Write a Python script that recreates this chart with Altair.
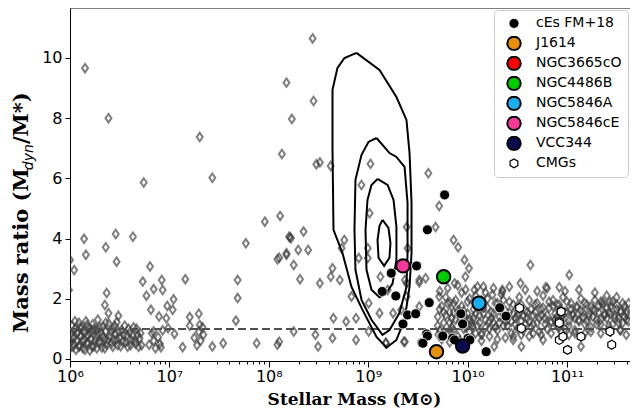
import altair as alt
import pandas as pd

# ---------------- data (log10 stellar mass, mass ratio) ----------------
dia_low = [
    [6.00, 0.55], [6.01, 0.85], [6.02, 1.10], [6.03, 0.40], [6.04, 0.70], [6.05, 1.00], [6.06, 0.30],
    [6.07, 0.60], [6.08, 0.90], [6.09, 1.20], [6.10, 0.45], [6.11, 0.75], [6.12, 1.05], [6.13, 0.35],
    [6.14, 0.62], [6.15, 0.88], [6.16, 1.25], [6.17, 0.50], [6.18, 0.78], [6.19, 1.02], [6.20, 0.28],
    [6.21, 0.66], [6.22, 0.95], [6.23, 1.15], [6.24, 0.42], [6.26, 0.72], [6.27, 0.98], [6.28, 1.30],
    [6.29, 0.55], [6.31, 0.85], [6.32, 0.38], [6.33, 1.08], [6.35, 0.65], [6.36, 0.92], [6.37, 0.48],
    [6.39, 1.18], [6.40, 0.75], [6.42, 0.52], [6.43, 1.00], [6.44, 0.62], [6.46, 0.82], [6.47, 1.22],
    [6.48, 0.45], [6.50, 0.70], [6.52, 0.95], [6.53, 0.58], [6.55, 1.10], [6.57, 0.78], [6.58, 0.40],
    [6.60, 0.88], [6.62, 0.62], [6.64, 1.05], [6.66, 0.50], [6.68, 0.80], [6.70, 0.68], [6.72, 0.45],
    [6.00, 0.35], [6.02, 0.75], [6.04, 0.50], [6.05, 1.25], [6.07, 0.85], [6.09, 0.40], [6.10, 1.05],
    [6.12, 0.60], [6.13, 0.92], [6.15, 0.30], [6.17, 1.12], [6.18, 0.55], [6.20, 0.85], [6.22, 0.40],
    [6.24, 1.00], [6.25, 0.60], [6.27, 0.35], [6.28, 0.82], [6.30, 1.05], [6.31, 0.55], [6.33, 0.75],
    [6.35, 0.35], [6.36, 1.20], [6.38, 0.62], [6.41, 0.90], [6.43, 0.40], [6.45, 1.10], [6.47, 0.65],
    [6.49, 0.90], [6.51, 0.42], [6.54, 0.80], [6.56, 0.55], [6.59, 1.00], [6.61, 0.45], [6.63, 0.78],
    [6.65, 0.60], [6.67, 1.00], [6.69, 0.40], [6.71, 0.85],
    [6.796, 0.47], [6.823, 0.85], [6.842, 0.60], [6.860, 0.35], [6.887, 0.72], [6.905, 0.50],
    [6.932, 0.95], [6.914, 0.39], [7.051, 0.83], [7.133, 0.39], [7.251, 0.70], [7.278, 0.45],
    [7.296, 0.90], [7.314, 0.60], [7.342, 0.80], [7.432, 0.41], [7.541, 0.52], [7.878, 0.52],
    [8.087, 0.47], [7.333, 1.05], [7.205, 1.10], [7.305, 1.13], [6.987, 1.02], [6.842, 0.91],
]
dia_scatter = [
    [6.151, 9.66], [6.387, 8.00], [6.142, 3.99], [6.160, 3.46], [6.042, 2.95], [6.00, 3.29], [5.99, 2.29],
    [6.360, 3.71], [6.460, 4.15], [6.469, 3.23], [6.369, 2.19], [6.351, 1.79], [6.387, 1.52], [6.487, 1.43],
    [6.633, 4.06], [6.805, 3.07], [6.732, 2.57], [6.769, 2.10], [6.842, 2.32], [6.923, 2.62], [6.932, 2.29],
    [6.814, 1.63], [6.896, 1.41], [6.978, 1.76], [7.042, 1.98], [7.033, 1.63], [6.969, 1.35], [7.160, 2.65],
    [7.205, 1.39], [7.296, 1.50], [7.669, 1.27], [7.687, 2.02], [7.687, 2.62], [7.769, 3.84], [8.087, 3.31],
    [8.178, 3.46], [8.205, 4.06], [8.441, 10.65], [8.178, 9.18], [8.450, 8.57], [8.232, 7.97], [7.305, 7.37],
    [8.132, 6.81], [8.478, 6.47], [8.514, 6.53], [8.623, 6.41], [6.742, 5.86], [7.432, 6.02], [7.960, 4.56],
    [8.114, 4.75], [8.214, 4.04], [8.350, 4.23], [9.023, 6.48], [9.605, 6.17], [8.932, 5.78], [9.014, 4.84],
    [9.387, 4.38], [8.223, 4.01], [8.760, 3.95], [8.396, 3.62], [8.296, 3.62], [8.178, 3.51], [8.105, 3.36],
    [8.732, 3.68], [8.996, 3.68], [9.396, 3.68], [8.251, 3.12], [8.905, 3.35], [8.996, 3.35], [8.641, 3.01],
    [8.623, 2.73], [8.714, 2.62], [8.514, 2.51], [8.314, 2.65], [8.832, 2.07], [9.123, 2.73], [9.369, 2.62],
    [9.514, 2.62], [9.005, 1.85], [8.878, 1.35], [8.778, 1.24], [8.650, 1.35], [8.251, 0.91], [8.469, 0.80],
    [8.641, 0.69], [8.496, 0.41], [8.105, 0.57], [8.878, 0.63], [9.005, 0.91], [9.178, 0.54], [9.359, 0.57],
    [9.114, 1.52], [9.250, 1.52], [9.387, 2.07], [9.196, 2.29], [9.332, 1.63], [9.714, 5.08], [9.678, 4.38],
    [9.859, 3.95], [9.905, 3.71], [10.632, 3.12], [9.969, 3.29], [10.014, 3.01], [9.578, 2.68],
    [9.514, 2.54], [9.714, 2.07], [9.823, 1.87], [9.869, 2.51], [9.978, 2.73], [10.069, 2.29],
    [10.159, 2.40], [10.250, 2.13], [10.350, 2.29], [10.532, 2.51], [9.387, 2.51], [9.514, 1.74],
    [9.705, 0.80], [9.832, 0.91], [9.369, 0.57], [9.178, 0.52], [10.050, 1.07], [10.141, 0.85],
    [10.268, 0.41], [10.459, 0.63], [10.541, 0.41], [11.023, 2.79], [10.787, 2.38], [10.923, 2.38],
    [11.341, 1.90], [11.432, 1.90], [10.759, 0.63], [11.141, 0.41], [11.596, 0.80], [11.414, 0.96],
    [11.532, 0.96], [10.350, 2.24],
]
# dense band of diamonds above 10^9.7: [log mass, [ratios at that mass]]
dia_band = [
    [9.70, [1.40, 1.10]], [9.72, [0.95, 1.65, 2.25]], [9.74, [1.75, 0.65]], [9.76, [1.20, 1.55, 0.90]],
    [9.78, [2.05, 1.45]], [9.80, [0.85, 1.85, 2.35]], [9.82, [1.55, 1.20, 0.55]], [9.84, [1.05, 1.35]],
    [9.86, [1.85, 1.55, 0.95]], [9.88, [1.30, 1.95]], [9.90, [0.75, 1.60, 2.45]], [9.92, [1.60, 1.25, 0.60]],
    [9.94, [2.20, 1.75]], [9.96, [1.00, 1.60, 1.40]], [9.98, [1.40, 1.05, 2.30]], [10.00, [1.90, 1.50]],
    [10.02, [0.90, 2.00, 1.30]], [10.04, [1.25, 1.15, 0.70]], [10.06, [1.65, 1.35]], [10.08, [2.10, 0.85, 1.50]],
    [10.10, [1.10, 1.75, 2.40]], [10.12, [1.45, 1.20]], [10.14, [0.80, 1.95, 0.60]], [10.16, [1.70, 1.50]],
    [10.18, [1.30, 1.05, 2.20]], [10.20, [2.00, 1.70]], [10.22, [1.00, 1.25, 0.75]], [10.24, [1.55, 1.35]],
    [10.26, [1.20, 1.50, 2.35]], [10.28, [1.85, 1.05]], [10.30, [0.95, 1.85, 0.65]], [10.32, [1.40, 1.20]],
    [10.34, [2.15, 1.75]], [10.36, [1.10, 1.45, 1.95]], [10.38, [1.60, 1.25, 0.70]], [10.40, [1.30, 1.10]],
    [10.42, [1.90, 1.55, 2.40]], [10.44, [0.85, 1.25]], [10.46, [1.50, 1.80, 0.75]], [10.48, [1.15, 1.35]],
    [10.50, [1.75, 1.00, 1.45]], [10.52, [2.05, 1.50]], [10.54, [1.25, 1.80, 0.80]], [10.56, [0.95, 1.45]],
    [10.58, [1.60, 1.15, 2.30]], [10.60, [1.35, 1.55]], [10.62, [1.95, 1.25, 0.75]], [10.64, [1.05, 1.65]],
    [10.66, [1.45, 1.15, 0.85]], [10.68, [1.80, 1.55]], [10.70, [1.20, 1.85, 2.25]], [10.72, [0.90, 1.35]],
    [10.74, [1.65, 1.45, 0.80]], [10.76, [2.10, 1.70]], [10.78, [1.35, 1.15]], [10.80, [1.00, 1.45, 2.35]],
    [10.82, [1.70, 1.90]], [10.84, [1.25, 1.20, 0.85]], [10.86, [1.95, 1.75]], [10.88, [1.50, 1.30]],
    [10.90, [1.10, 1.80, 1.40]], [10.92, [1.80, 1.05]], [10.94, [1.40, 1.65, 0.90]], [10.96, [2.05, 1.30]],
    [10.98, [1.00, 1.55, 2.25]], [11.00, [1.55, 1.90]], [11.02, [1.25, 1.10, 0.80]], [11.04, [1.85, 1.65]],
    [11.06, [1.45, 1.50]], [11.08, [0.95, 1.35, 0.85]], [11.10, [1.70, 1.75]], [11.12, [1.30, 1.25, 2.30]],
    [11.14, [2.00, 1.60]], [11.16, [1.55, 1.40]], [11.18, [1.15, 1.85, 0.85]], [11.20, [1.80, 1.25]],
    [11.22, [1.40, 1.50]], [11.24, [1.05, 1.75, 0.90]], [11.26, [1.65, 1.40]], [11.28, [1.95, 1.60, 2.20]],
    [11.30, [1.30, 1.15]], [11.32, [1.55, 1.75]], [11.34, [1.15, 1.30, 0.85]], [11.36, [1.80, 1.90]],
    [11.38, [1.45, 1.50]], [11.40, [1.70, 1.35, 2.10]], [11.42, [1.10, 1.55]], [11.44, [1.50, 1.75, 0.90]],
    [11.46, [1.90, 1.15]], [11.48, [1.35, 1.45]], [11.50, [1.65, 1.80, 2.05]], [11.52, [1.20, 1.35]],
    [11.54, [1.55, 1.60, 0.95]], [11.56, [1.85, 1.20]], [11.58, [1.40, 1.75]], [11.60, [1.60, 1.50, 1.30]],
    [11.62, [1.25, 1.85]],
]

ces_pts = [
    [9.596, 4.29], [9.769, 5.45], [9.232, 2.85], [9.487, 3.09], [9.141, 2.24], [9.278, 2.09],
    [9.614, 1.87], [9.396, 1.46], [9.478, 1.50], [9.350, 1.16], [9.587, 0.83], [9.541, 0.54],
    [9.932, 1.50], [9.950, 1.16], [9.741, 0.74], [9.850, 0.69], [10.005, 0.69], [10.187, 0.24],
    [10.323, 1.70], [10.387, 1.42], [9.596, 0.76], [9.750, 0.76], [9.869, 0.63], [10.023, 0.63],
    [9.550, 0.52],
]
named_groups = ["J1614", "NGC3665cO", "NGC4486B", "NGC5846A", "NGC5846cE", "VCC344"]
named_colors = ["#e8900c", "#ff0000", "#00cc00", "#19aef0", "#f7399c", "#0b0b4f"]
named_pts = {"J1614": [9.687, 0.24], "NGC4486B": [9.759, 2.73], "NGC5846A": [10.114, 1.85],
             "NGC5846cE": [9.350, 3.09], "VCC344": [9.950, 0.43]}
cmg_pts = [
    [10.941, 1.57], [10.923, 1.24], [11.141, 0.74], [11.005, 0.30], [10.923, 0.63], [10.959, 0.74],
    [11.450, 0.47], [11.432, 0.91], [10.523, 1.69], [10.541, 1.02], [10.923, 1.19],
]

contours = [
    [[8.882, 10.17], [9.114, 9.60], [9.284, 8.70], [9.385, 7.94], [9.416, 6.84], [9.436, 5.18],
     [9.436, 3.52], [9.416, 2.39], [9.366, 1.30], [9.284, 0.63], [9.184, 0.37], [9.084, 0.73],
     [8.943, 1.63], [8.832, 2.39], [8.741, 3.52], [8.651, 4.29], [8.641, 6.94], [8.641, 8.94],
     [8.691, 9.67], [8.761, 10.0], [8.882, 10.17]],
    [[9.084, 7.34], [9.215, 6.84], [9.284, 6.71], [9.366, 6.38], [9.396, 5.18], [9.396, 3.52],
     [9.385, 2.39], [9.315, 1.53], [9.215, 0.96], [9.144, 0.80], [9.033, 1.30], [8.933, 1.96],
     [8.872, 2.96], [8.862, 4.29], [8.872, 5.95], [8.933, 6.78], [9.003, 7.21], [9.084, 7.34]],
    [[9.094, 5.98], [9.195, 5.78], [9.255, 5.28], [9.284, 4.39], [9.284, 3.29], [9.245, 2.50],
     [9.174, 2.15], [9.114, 2.05], [9.033, 2.30], [8.983, 2.96], [8.973, 4.29], [8.993, 5.28],
     [9.033, 5.78], [9.094, 5.98]],
    [[9.144, 4.62], [9.204, 4.35], [9.224, 3.85], [9.214, 3.36], [9.160, 3.09], [9.104, 3.36],
     [9.094, 3.95], [9.114, 4.42], [9.144, 4.62]],
]

x_majors = [1e6, 1e7, 1e8, 1e9, 1e10, 1e11]
x_labels = ["10⁶", "10⁷", "10⁸", "10⁹", "10¹⁰", "10¹¹"]
y_ticks = [0, 2, 4, 6, 8, 10]
ytitle_parts = ["Mass ratio (M", "dyn", "/M*)"]

# ---------------- build tables ----------------
W, H = 560, 353
XMAX = 10 ** 11.634
dia_rows = [list(p) for p in dia_low + dia_scatter]
for lm, rs in dia_band:
    for r in rs:
        dia_rows.append([lm, r])
dia = pd.DataFrame(dia_rows, columns=["lm", "ratio"])
dia["mass"] = 10 ** dia["lm"]

rows = []
for p in ces_pts:
    rows.append({"lm": p[0], "ratio": p[1], "group": "cEs FM+18"})
for g in named_groups:
    if g in named_pts:
        rows.append({"lm": named_pts[g][0], "ratio": named_pts[g][1], "group": g})
for p in cmg_pts:
    rows.append({"lm": p[0], "ratio": p[1], "group": "CMGs"})
pts = pd.DataFrame(rows)
pts["mass"] = 10 ** pts["lm"]

crow = []
for ci, c in enumerate(contours):
    for i, p in enumerate(c):
        crow.append({"cid": ci, "idx": i, "mass": 10 ** p[0], "ratio": p[1]})
cdf = pd.DataFrame(crow)

x_minor = []
for e in range(6, 12):
    for m in range(1, 10):
        if m * 10.0 ** e <= XMAX:
            x_minor.append(float(f"{m}e{e}"))
major_list = "[" + ",".join(str(int(v)) for v in x_majors) + "]"
label_expr = ""
for v, lab in zip(x_majors, x_labels):
    label_expr += f"datum.value == {int(v)} ? '{lab}' : "
label_expr += "''"

xscale = alt.Scale(type="log", domain=[1e6, XMAX], nice=False)
yscale = alt.Scale(domain=[-0.07, 11.66], nice=False, zero=False)

xaxis = alt.Axis(
    values=x_minor, labelExpr=label_expr, title="Stellar Mass (M⊙)",
    tickSize={"condition": {"test": f"indexof({major_list}, datum.value) >= 0", "value": 6}, "value": 3},
    labelFlush=False, labelOverlap=False, labelFontSize=16, labelPadding=1,
    titleFont="DejaVu Serif", titleFontWeight="bold", titleFontSize=17,
    titleX=284, titleY=43, titleAlign="center", titleBaseline="alphabetic",
    grid=False,
)
yaxis = alt.Axis(values=y_ticks, title=None, tickSize=5, labelFontSize=16, labelPadding=3, grid=False)

diamond = "M0,-1L0.7,0L0,1L-0.7,0Z"
hexagon = "M0,-1L0.866,-0.5L0.866,0.5L0,1L-0.866,0.5L-0.866,-0.5Z"

base_x = alt.X("mass:Q", scale=xscale, axis=xaxis)
base_y = alt.Y("ratio:Q", scale=yscale, axis=yaxis)

dia_layer = alt.Chart(dia).mark_point(
    shape=diamond, size=72, filled=False, stroke="#3a3a3a", strokeOpacity=0.92, strokeWidth=2.0, clip=True
).encode(x=base_x, y=base_y)

dash_layer = alt.Chart(dia).mark_rule(
    color="#505050", strokeDash=[8, 4], strokeWidth=1.7
).encode(y=alt.datum(1, scale=yscale))

contour_layer = alt.Chart(cdf).mark_line(
    color="black", strokeWidth=2, clip=True, interpolate="linear"
).encode(
    x=alt.X("mass:Q", scale=xscale), y=alt.Y("ratio:Q", scale=yscale),
    detail="cid:N", order="idx:Q",
)

groups = ["cEs FM+18"] + named_groups + ["CMGs"]
fills = ["black"] + named_colors + ["white"]
shapes = ["circle"] * 7 + [hexagon]
sizes = [100] + [180] * 6 + [80]
strokes = ["white"] + ["black"] * 6 + ["black"]
swidths = [0.8] + [2] * 6 + [1.2]

pt_layer = alt.Chart(pts).mark_point(filled=True, opacity=1, clip=True).encode(
    x=alt.X("mass:Q", scale=xscale),
    y=alt.Y("ratio:Q", scale=yscale),
    fill=alt.Fill("group:N", scale=alt.Scale(domain=groups, range=fills),
                  legend=alt.Legend(title=None, orient="top-right", offset=2,
                                    padding=6, strokeColor="#cccccc", fillColor="white",
                                    cornerRadius=4, labelFont="DejaVu Sans", labelFontSize=14,
                                    labelColor="black", rowPadding=5, clipHeight=14.8,
                                    labelOffset=14, symbolOffset=6, symbolOpacity=1)),
    shape=alt.Shape("group:N", scale=alt.Scale(domain=groups, range=shapes), legend=alt.Legend(title=None)),
    size=alt.Size("group:N", scale=alt.Scale(type="ordinal", domain=groups, range=sizes), legend=alt.Legend(title=None)),
    stroke=alt.Stroke("group:N", scale=alt.Scale(domain=groups, range=strokes), legend=alt.Legend(title=None)),
    strokeWidth=alt.StrokeWidth("group:N", scale=alt.Scale(type="ordinal", domain=groups, range=swidths), legend=alt.Legend(title=None)),
)

one = pd.DataFrame({"k": [0]})
top_line = alt.Chart(one).mark_rule(color="black", strokeWidth=1).encode(
    x=alt.value(0), x2=alt.value(W), y=alt.value(0)
)

# y-axis title with subscript, composed of three rotated text pieces
em_bold = 21 * 7.754
em_sub = 14 * 1.861
yt1 = alt.Chart(one).mark_text(
    text=ytitle_parts[0], angle=270, align="left", baseline="alphabetic",
    font="DejaVu Serif", fontWeight="bold", fontSize=21, color="black"
).encode(x=alt.value(-42), y=alt.value(325))
yt2 = alt.Chart(one).mark_text(
    text=ytitle_parts[1], angle=270, align="left", baseline="alphabetic",
    font="DejaVu Sans", fontStyle="italic", fontSize=14, color="black"
).encode(x=alt.value(-37), y=alt.value(325 - em_bold))
yt3 = alt.Chart(one).mark_text(
    text=ytitle_parts[2], angle=270, align="left", baseline="alphabetic",
    font="DejaVu Serif", fontWeight="bold", fontSize=21, color="black"
).encode(x=alt.value(-42), y=alt.value(325 - em_bold - em_sub))

chart = alt.layer(dia_layer, dash_layer, contour_layer, pt_layer, top_line, yt1, yt2, yt3).properties(
    width=W, height=H,
    autosize=alt.AutoSizeParams(type="none"),
    padding={"left": 62, "top": 0, "right": 0, "bottom": 48},
).configure_view(stroke=None).configure_axis(
    labelFont="DejaVu Sans", labelColor="black", domainColor="black", tickColor="black",
    titleColor="black", domainWidth=1, tickWidth=1,
)

chart.save("out.html", embed_options={"renderer": "svg", "actions": False})
